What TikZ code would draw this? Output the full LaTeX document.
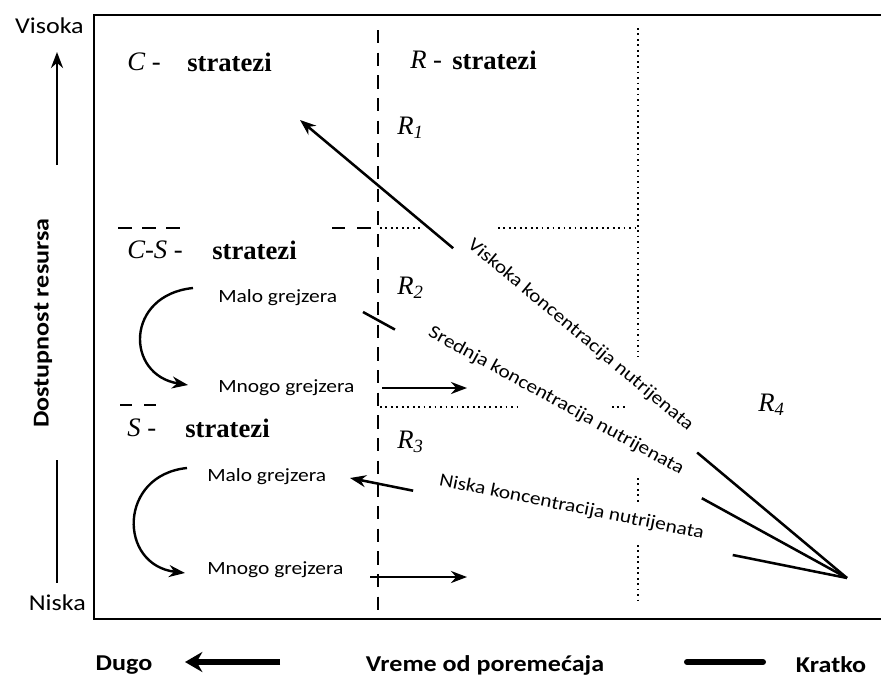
\documentclass[tikz,border=0pt]{standalone}
\usepackage{fontspec}
\setmainfont{Liberation Serif}
\newfontfamily\grf[FakeStretch=1.15]{Carlito}
\usetikzlibrary{arrows.meta}
\tikzset{lbl/.style={font=\grf\fontsize{14pt}{16pt}\selectfont, inner sep=0pt}}
\tikzset{axlbl/.style={font=\grf\fontsize{17pt}{20pt}\selectfont, inner sep=0pt}}
\tikzset{axbold/.style={font=\grf\bfseries\fontsize{17pt}{20pt}\selectfont, inner sep=0pt}}
\tikzset{strat/.style={font=\fontsize{20pt}{24pt}\selectfont, inner sep=0pt, anchor=west}}
\tikzset{stratw/.style={font=\bfseries\fontsize{20pt}{24pt}\selectfont, inner sep=0pt, anchor=west}}
\tikzset{arr/.style={line width=2.2pt, -{Stealth[length=12pt,width=9pt]}}}
\tikzset{diag/.style={line width=1.9pt}}
\tikzset{dashln/.style={line width=1.6pt, dash pattern=on 10pt off 7pt}}
\tikzset{dotln/.style={line width=1.4pt, dash pattern=on 1.3pt off 2.8pt}}

\begin{document}
\begin{tikzpicture}[x=0.75pt, y=-0.75pt]
\useasboundingbox (0,0) rectangle (881,678);

\draw[line width=2pt] (881,15) -- (94,15) -- (94,619) -- (881,619);

% resource axis
\node[axlbl, anchor=east] (visoka) at (84,26) {Visoka};
\node[axlbl, anchor=east] (niska) at (86,603) {Niska};
\node[axbold, rotate=90] (dostup) at (43,323) {Dostupnost resursa};
\coordinate (upA) at (57,165);
\coordinate (upB) at (57,52);
\draw[arr] (upA) -- (upB);
\coordinate (lowA) at (57,460);
\coordinate (lowB) at (57,583);
\draw[line width=2.2pt] (lowA) -- (lowB);

% time axis
\node[axbold] (dugo) at (124,665) {Dugo};
\node[axbold] (vreme) at (485,665) {Vreme od poremećaja};
\node[axbold] (kratko) at (831,665) {Kratko};
\coordinate (tA) at (280,662);
\coordinate (tB) at (185,662);
\draw[line width=4pt, -{Stealth[length=13pt,width=15pt]}] (tA) -- (tB);
\coordinate (kA) at (687,662);
\coordinate (kB) at (763,662);
\draw[line width=4.5pt, line cap=round] (kA) -- (kB);

% region borders
\coordinate (dvTop) at (378,30);
\coordinate (dvBot) at (378,610);
\draw[dashln] (dvTop) -- (dvBot);
\draw[dotln] (638,28) -- (638,357);
\draw[dotln] (638,478) -- (638,505);
\draw[dotln] (638,545) -- (638,605);
\draw[dotln] (380,228) -- (420,228);
\draw[dotln] (498,228) -- (638,228);
\draw[dotln] (380,407) -- (520,407);
\draw[dotln] (612,407) -- (628,407);
\draw[line width=1.6pt, dash pattern=on 10.5pt off 7.5pt] (118,228) -- (184,228);
\draw[line width=1.6pt, dash pattern=on 10pt off 9pt] (332,228) -- (378,228);
\draw[line width=1.6pt, dash pattern=on 9pt off 9pt] (120,405) -- (158,405);

% strategies
\node[strat] (cL) at (127,62) {\textit{C} -};
\node[stratw] (cW) at (187,62) {stratezi};
\node[strat] (rL) at (410,60) {\textit{R} -};
\node[stratw] (rW) at (452,60) {stratezi};
\node[strat] (csL) at (127,250) {\textit{C-S} -};
\node[stratw] (csW) at (212,250) {stratezi};
\node[strat] (sL) at (127,428) {\textit{S} -};
\node[stratw] (sW) at (185,428) {stratezi};

\node[strat] (r1) at (397,128) {\textit{R\textsubscript{1}}};
\node[strat] (r2) at (397,288) {\textit{R\textsubscript{2}}};
\node[strat] (r3) at (397,442) {\textit{R\textsubscript{3}}};
\node[strat] (r4) at (758,405) {\textit{R\textsubscript{4}}};

% grazers
\node[lbl, anchor=west] (maloA) at (218,298) {Malo grejzera};
\node[lbl, anchor=west] (mnogoA) at (218,388) {Mnogo grejzera};
\node[lbl, anchor=west] (maloB) at (207,477) {Malo grejzera};
\node[lbl, anchor=west] (mnogoB) at (207,570) {Mnogo grejzera};

\coordinate (cA1) at (193,288);
\coordinate (cA2) at (188,385);
\draw[arr, line width=1.8pt] (cA1) .. controls (125,295) and (125,375) .. (cA2);
\coordinate (cB1) at (187,468);
\coordinate (cB2) at (185,573);
\draw[arr, line width=1.8pt] (cB1) .. controls (118,475) and (118,565) .. (cB2);

\coordinate (mA1) at (382,388);
\coordinate (mA2) at (467,388);
\draw[arr] (mA1) -- (mA2);
\coordinate (mB1) at (370,577);
\coordinate (mB2) at (467,577);
\draw[arr] (mB1) -- (mB2);

% nutrient lines
\coordinate (apex) at (847,578);
\coordinate (vTip) at (300,120);
\coordinate (sEnd) at (363,312);
\coordinate (nTip) at (350,478);

\path (vTip) -- (apex) coordinate[pos=0.28] (v1) coordinate[pos=0.726] (v2)
  node[lbl, pos=0.495, sloped, above=5pt] (vTxt) {Viskoka koncentracija nutrijenata};
\draw[arr, line width=1.9pt] (v1) -- (vTip);
\draw[diag] (v2) -- (apex);

\path (sEnd) -- (apex) coordinate[pos=0.066] (s1) coordinate[pos=0.70] (s2)
  node[lbl, pos=0.384, sloped, above=5pt] (sTxt) {Srednja koncentracija nutrijenata};
\draw[diag] (sEnd) -- (s1);
\draw[diag] (s2) -- (apex);

\path (nTip) -- (apex) coordinate[pos=0.127] (n1) coordinate[pos=0.77] (n2)
  node[lbl, pos=0.44, sloped, above=5pt] (nTxt) {Niska koncentracija nutrijenata};
\draw[arr, line width=1.9pt] (n1) -- (nTip);
\draw[diag] (n2) -- (apex);

\end{tikzpicture}
\end{document}
